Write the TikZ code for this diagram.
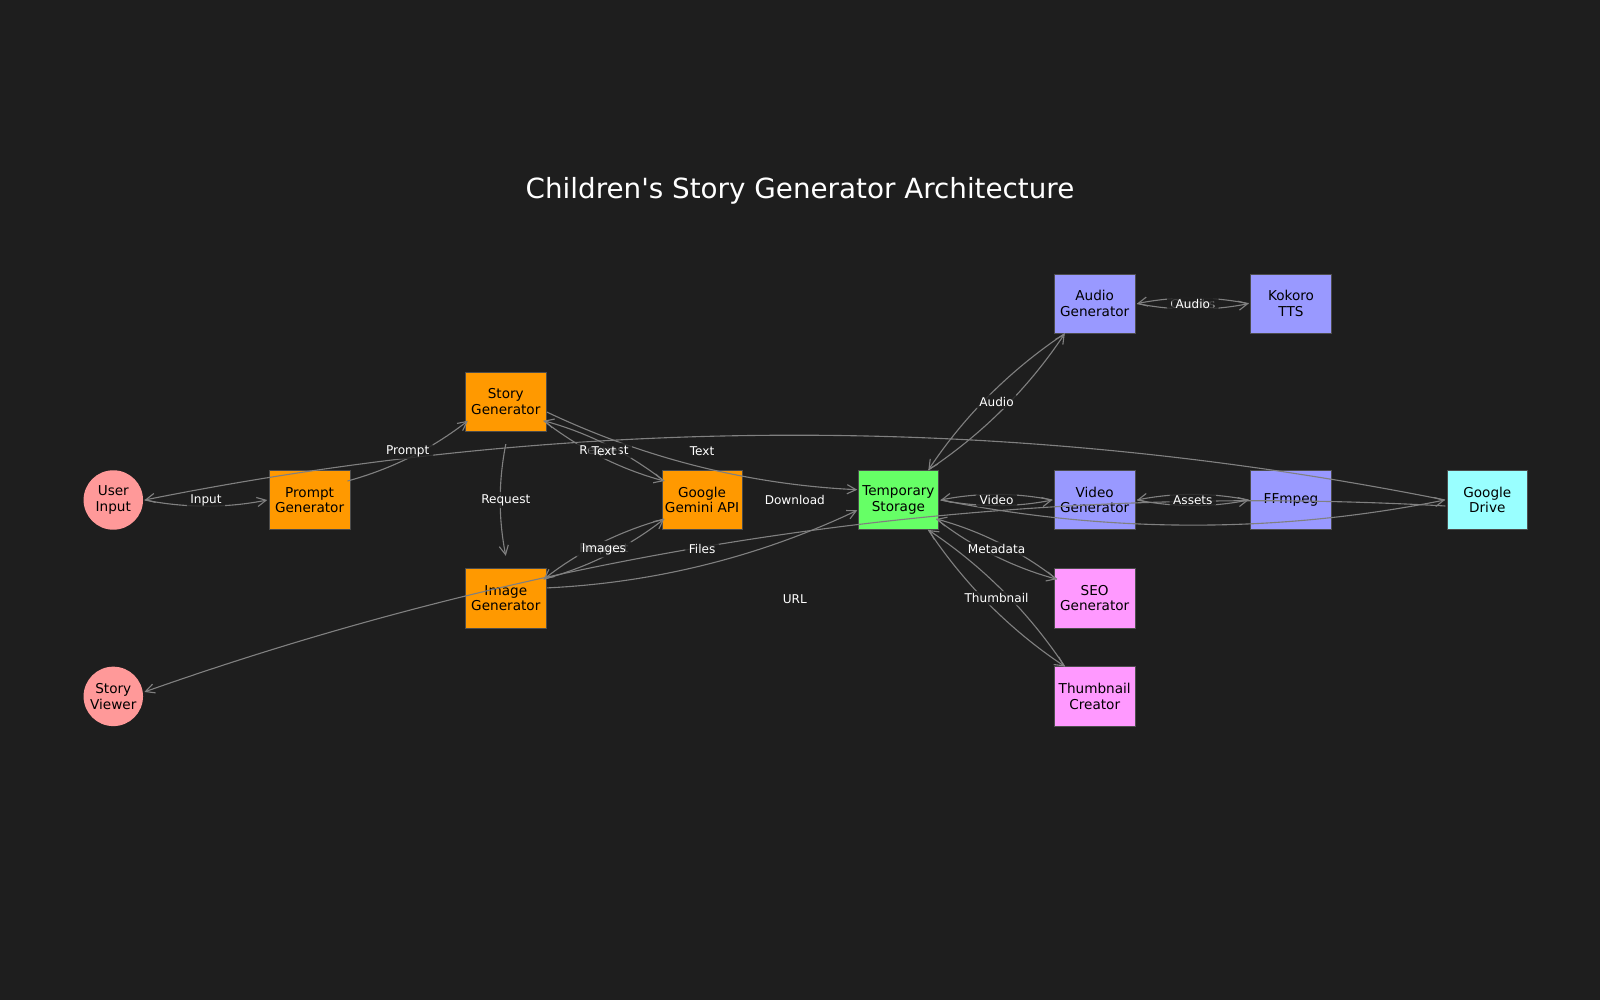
\documentclass[tikz,border=0pt]{standalone}
\usepackage{fontspec}
\setmainfont{DejaVu Sans}
\usetikzlibrary{calc,arrows.meta}
\definecolor{bg}{HTML}{1E1E1E}
\definecolor{edgegray}{HTML}{808080}
\definecolor{corange}{HTML}{FF9900}
\definecolor{cgreen}{HTML}{66FF66}
\definecolor{cblue}{HTML}{9999FF}
\definecolor{cpink}{HTML}{FF99FF}
\definecolor{ccyan}{HTML}{99FFFF}
\definecolor{cred}{HTML}{FF9999}
\newcommand{\nfont}{\fontsize{9.8}{11.3}\selectfont}
\newcommand{\lfont}{\fontsize{8.7}{10}\selectfont}
\newcommand{\sB}{30.5pt}
\newcommand{\sC}{22.6pt}
\newcommand{\conn}[4]{\draw[edge] ($(#1.center)!#2!(#3.center)$) to[bend right=11.31, looseness=0.868] ($(#3.center)!#4!(#1.center)$);}
\newcommand{\elab}[5]{%
  \coordinate (lA) at ($(#1.center)!#2!(#3.center)$);
  \coordinate (lB) at ($(#3.center)!#4!(#1.center)$);
  \node[elabel] at ($(lA)!0.5!(lB)$) {#5};}
\begin{document}
\begin{tikzpicture}[x=0.72pt,y=0.72pt,
  box/.style={rectangle, draw=black!70, line width=0.5pt, minimum width=57.96pt, minimum height=42.8pt, inner sep=0pt, align=center, font=\nfont, text=black},
  circ/.style={circle, minimum size=42.8pt, inner sep=0pt, align=center, font=\nfont, text=black},
  edge/.style={draw=edgegray, line width=0.8pt, -{Straight Barb[length=6.5pt,width=6.6pt]}},
  elabel/.style={fill=bg, fill opacity=0.82, text opacity=1, text=white, font=\lfont, inner xsep=2.5pt, inner ysep=1.8pt, rounded corners=2pt}
]
\fill[bg] (0,0) rectangle (1600,1000);
\useasboundingbox (0,0) rectangle (1600,1000);

\node[text=white, font=\fontsize{20}{24}\selectfont] (title) at (800,809) {Children\textquotesingle s Story Generator Architecture};

% nodes
\node[circ, fill=cred] (ui) at (113.3,500) {User\\Input};
\node[circ, fill=cred] (sv) at (113.3,303.6) {Story\\Viewer};
\node[box, fill=corange] (pg) at (309.6,500) {Prompt\\Generator};
\node[box, fill=corange] (sg) at (505.8,598.2) {Story\\Generator};
\node[box, fill=corange] (ig) at (505.8,401.8) {Image\\Generator};
\node[box, fill=corange] (gem) at (702.1,500) {Google\\Gemini API};
\node[box, fill=cgreen] (ts) at (898.4,500) {Temporary\\Storage};
\node[box, fill=cblue] (ag) at (1094.7,696.4) {Audio\\Generator};
\node[box, fill=cblue] (kt) at (1291,696.4) {Kokoro\\TTS};
\node[box, fill=cblue] (vg) at (1094.7,500) {Video\\Generator};
\node[box, fill=cblue] (ff) at (1291,500) {FFmpeg};
\node[box, fill=ccyan] (gd) at (1487.3,500) {Google\\Drive};
\node[box, fill=cpink] (seo) at (1094.7,401.8) {SEO\\Generator};
\node[box, fill=cpink] (tc) at (1094.7,303.6) {Thumbnail\\Creator};

% connectors
\conn{ui}{\sC}{pg}{\sB}
\conn{pg}{\sB}{sg}{\sB}
\conn{sg}{\sB}{gem}{\sB}
\conn{gem}{\sB}{sg}{\sB}
\conn{sg}{\sB}{ig}{\sB}
\conn{ig}{\sB}{gem}{\sB}
\conn{gem}{\sB}{ig}{\sB}
\conn{sg}{\sB}{ts}{\sB}
\conn{ig}{\sB}{ts}{\sB}
\conn{ts}{\sB}{ag}{\sB}
\conn{ag}{\sB}{ts}{\sB}
\conn{ag}{\sB}{kt}{\sB}
\conn{kt}{\sB}{ag}{\sB}
\conn{ts}{\sB}{vg}{\sB}
\conn{vg}{\sB}{ts}{\sB}
\conn{vg}{\sB}{ff}{\sB}
\conn{ff}{\sB}{vg}{\sB}
\conn{ts}{\sB}{seo}{\sB}
\conn{seo}{\sB}{ts}{\sB}
\conn{ts}{\sB}{tc}{\sB}
\conn{tc}{\sB}{ts}{\sB}
\conn{ts}{\sB}{gd}{\sB}
\conn{gd}{\sB}{ui}{\sC}
\conn{gd}{\sB}{sv}{\sC}

% labels
\elab{ui}{\sC}{pg}{\sB}{Input}
\elab{pg}{\sB}{sg}{\sB}{Prompt}
\elab{sg}{\sB}{gem}{\sB}{Request}
\elab{gem}{\sB}{sg}{\sB}{Text}
\elab{sg}{\sB}{ig}{\sB}{Request}
\elab{ig}{\sB}{gem}{\sB}{Request}
\elab{gem}{\sB}{ig}{\sB}{Images}
\elab{sg}{\sB}{ts}{\sB}{Text}
\elab{ig}{\sB}{ts}{\sB}{Files}
\elab{ag}{\sB}{ts}{\sB}{Audio}
\elab{ag}{\sB}{kt}{\sB}{Chunks}
\elab{kt}{\sB}{ag}{\sB}{Audio}
\elab{ts}{\sB}{vg}{\sB}{Video}
\elab{vg}{\sB}{ff}{\sB}{Assets}
\elab{ts}{\sB}{seo}{\sB}{Metadata}
\elab{ts}{\sB}{tc}{\sB}{Thumbnail}
\elab{gd}{\sB}{ui}{\sC}{Download}
\elab{gd}{\sB}{sv}{\sC}{URL}
\end{tikzpicture}
\end{document}
